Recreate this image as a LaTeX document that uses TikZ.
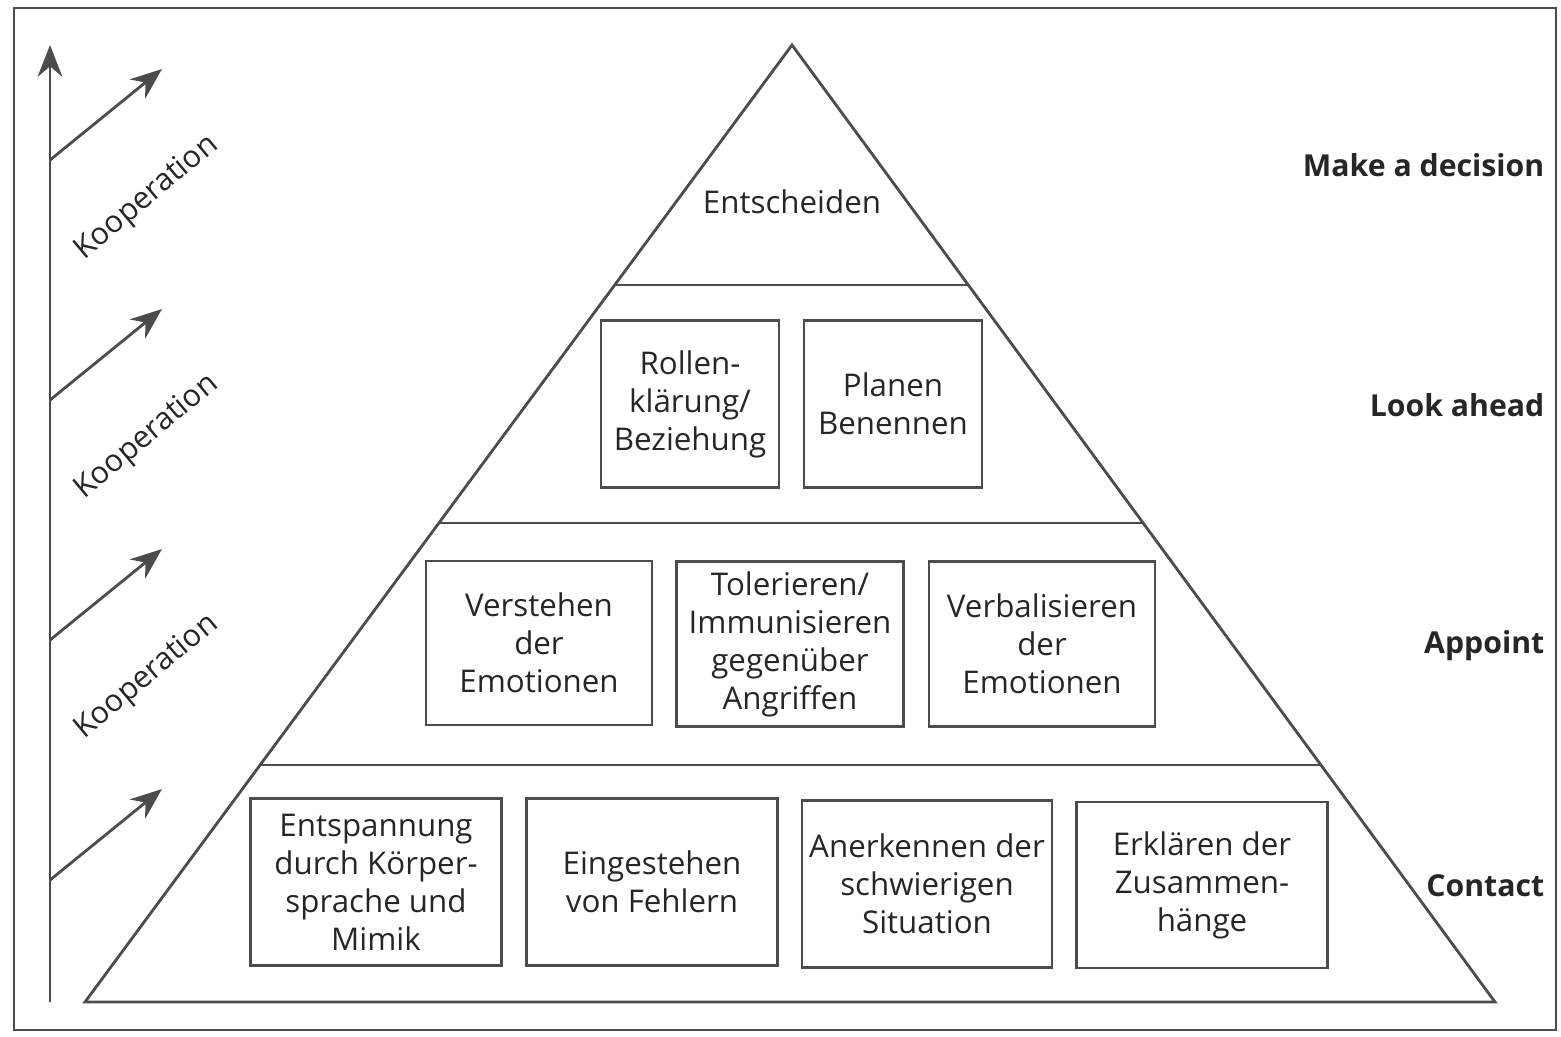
\documentclass[tikz,border=0pt]{standalone}
\usepackage{fontspec}
\setmainfont{Open Sans}
\usetikzlibrary{arrows.meta}
\definecolor{linegray}{gray}{0.3}
\definecolor{textgray}{gray}{0.15}
\tikzset{
  stufe/.style={draw=linegray, line width=0.8pt, align=center, inner sep=0pt,
    font=\fontsize{8.9}{10.8}\selectfont, text=textgray},
  ebene/.style={anchor=east, inner sep=0pt, font=\fontsize{8.6}{11}\selectfont\bfseries, text=textgray},
  koop/.style={rotate=40, font=\fontsize{8.7}{11}\selectfont, text=textgray},
  pfeil/.style={draw=linegray, line width=0.8pt, -{Stealth[length=9pt,width=7pt]}}
}
\begin{document}
\begin{tikzpicture}[x=0.01cm, y=-0.01cm]
	\useasboundingbox (0,0) rectangle (1561,1036);
	\draw[linegray, line width=0.8pt] (14,8) rectangle (1556,1030);
	% Pyramide
	\coordinate (spitze) at (792,45);
	\coordinate (links) at (85,1002);
	\coordinate (rechts) at (1495,1002);
	\draw[linegray, line width=0.8pt] (spitze) -- (links) -- (rechts) -- cycle;
	\coordinate (l1) at (615,285);  \coordinate (r1) at (968,285);
	\coordinate (l2) at (439,523);  \coordinate (r2) at (1143,523);
	\coordinate (l3) at (260,765);  \coordinate (r3) at (1321,765);
	\draw[linegray, line width=0.8pt] (l1) -- (r1) (l2) -- (r2) (l3) -- (r3);
	% Stufen
	\node[text=textgray, font=\fontsize{8.9}{11}\selectfont] (entsch) at (792,202) {Entscheiden};
	\node[stufe, minimum width=1.78cm, minimum height=1.67cm] (rollen) at (690,404) {Rollen-\\klärung/\\Beziehung};
	\node[stufe, minimum width=1.78cm, minimum height=1.67cm] (planen) at (893,404) {Planen\\Benennen};
	\node[stufe, minimum width=2.26cm, minimum height=1.64cm] (verstehen) at (539,643) {Verstehen\\der\\Emotionen};
	\node[stufe, minimum width=2.27cm, minimum height=1.65cm] (tolerieren) at (790,644) {Tolerieren/\\Immunisieren\\gegenüber\\Angriffen};
	\node[stufe, minimum width=2.26cm, minimum height=1.65cm] (verbal) at (1042,644) {Verbalisieren\\der\\Emotionen};
	\node[stufe, minimum width=2.51cm, minimum height=1.67cm] (entsp) at (376,882) {Entspannung\\durch Körper-\\sprache und\\Mimik};
	\node[stufe, minimum width=2.51cm, minimum height=1.67cm] (fehler) at (652,882) {Eingestehen\\von Fehlern};
	\node[stufe, minimum width=2.50cm, minimum height=1.67cm] (anerk) at (927,884) {Anerkennen der\\schwierigen\\Situation};
	\node[stufe, minimum width=2.51cm, minimum height=1.66cm] (erkl) at (1202,885) {Erklären der\\Zusammen-\\hänge};
	% Ebenen rechts
	\node[ebene] (decision) at (1545,165) {Make a decision};
	\node[ebene] (ahead) at (1545,405) {Look ahead};
	\node[ebene] (appoint) at (1545,646) {Appoint};
	\node[ebene] (contact) at (1545,886) {Contact};
	% Kooperation
	\coordinate (achse0) at (50,1002);
	\coordinate (achse1) at (50,45);
	\draw[pfeil] (achse0) -- (achse1);
	\foreach \y/\n in {160/1, 400/2, 640/3, 880/4}{
		\coordinate (start\n) at (50,\y);
		\coordinate (ende\n) at (162,\y-91);
		\draw[pfeil] (start\n) -- (ende\n);
	}
	\foreach \y/\n in {198/1, 437/2, 677/3}
		\node[koop] (koop\n) at (147,\y) {Kooperation};
\end{tikzpicture}
\end{document}
